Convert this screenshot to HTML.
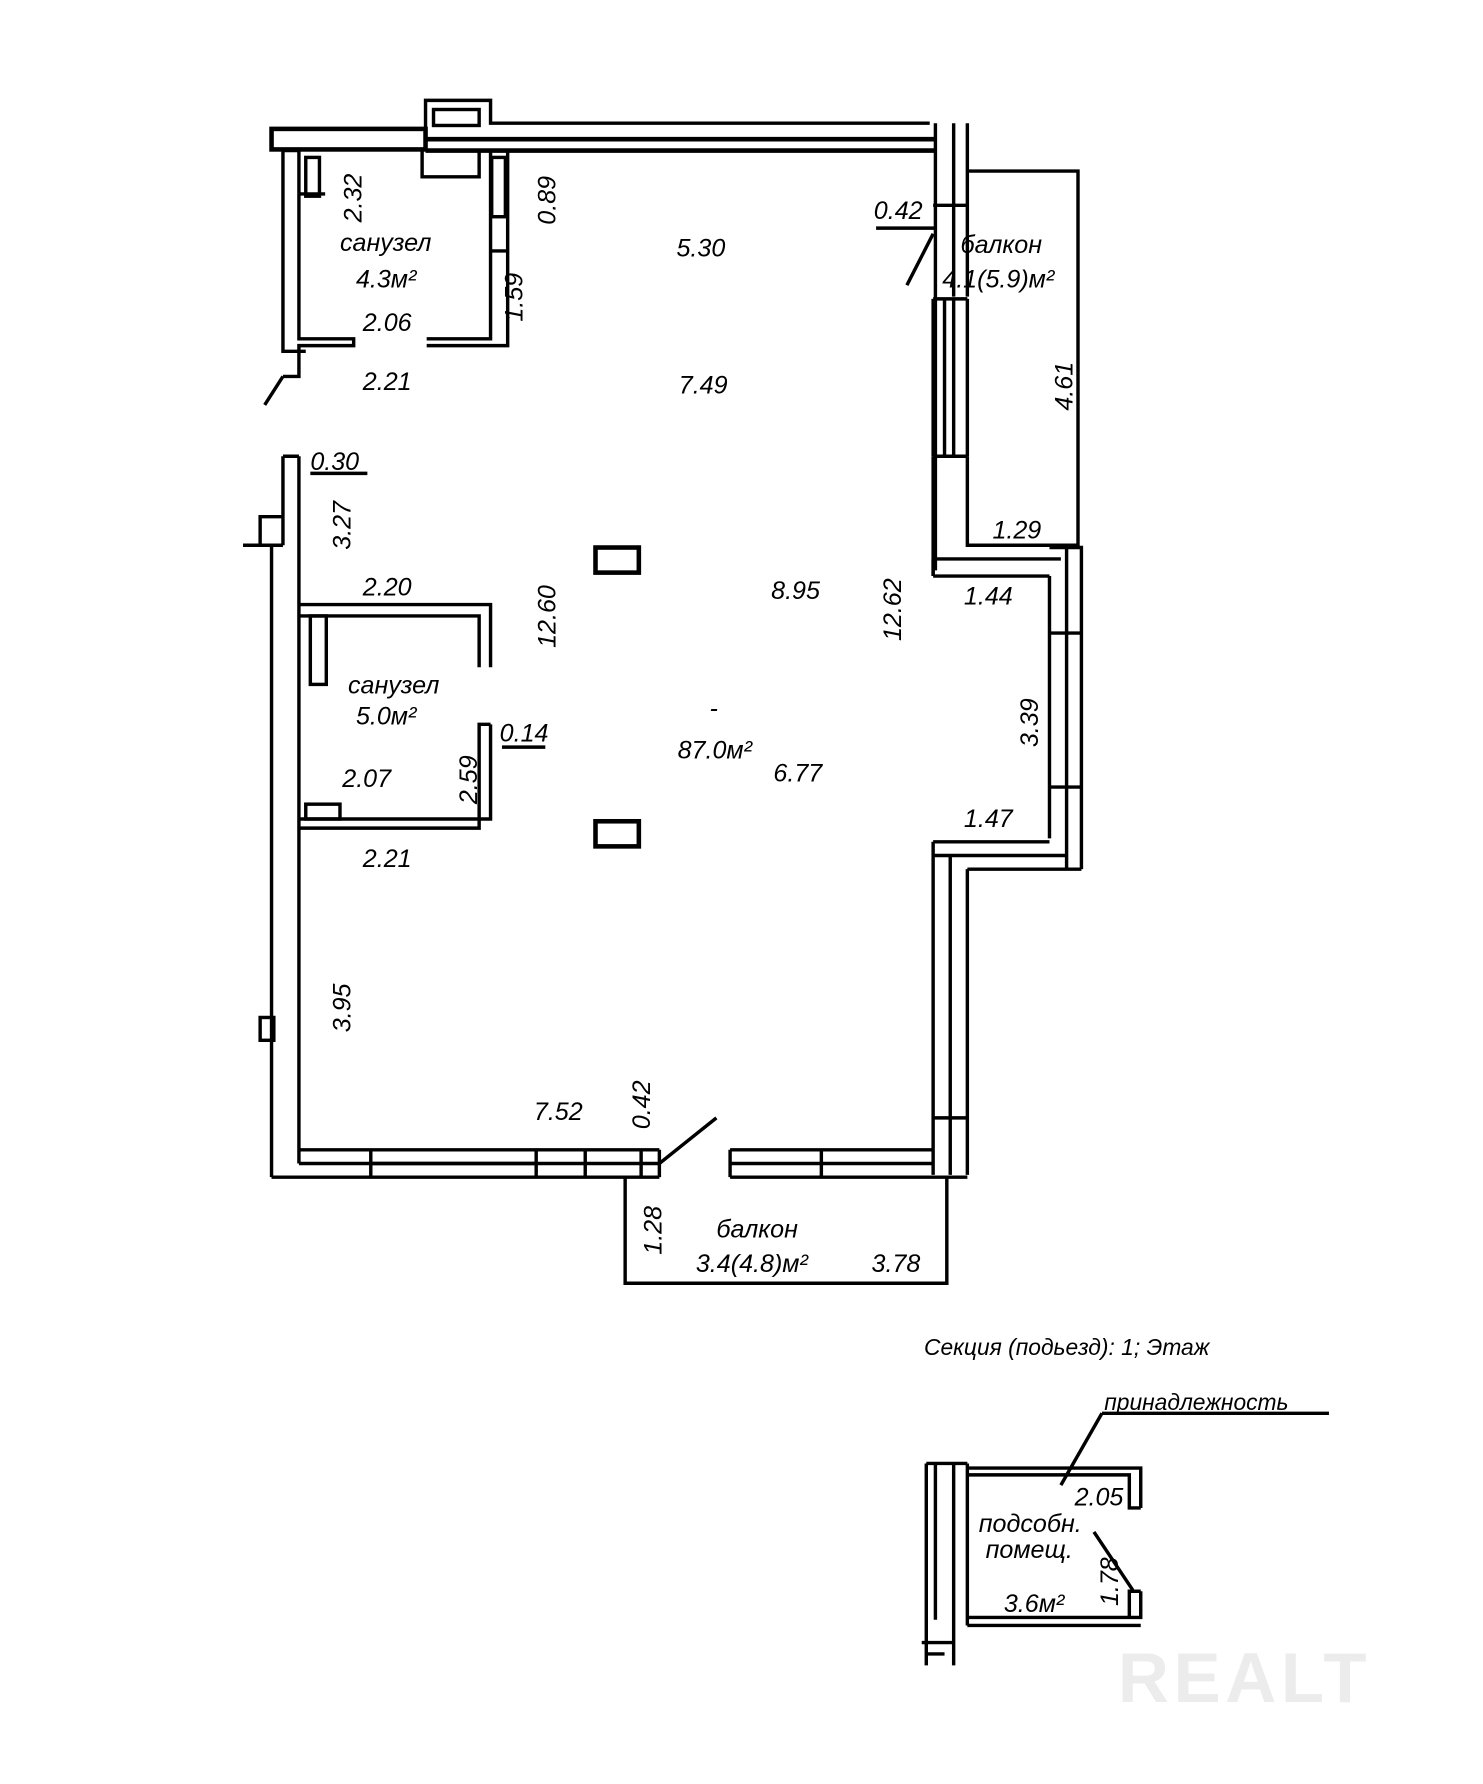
<!DOCTYPE html>
<html><head><meta charset="utf-8"><style>
html,body{margin:0;padding:0;background:#fff;}
svg{display:block;}
text{font-family:"Liberation Sans",sans-serif;font-style:italic;}
</style></head><body>
<svg width="1483" height="1784" viewBox="0 0 1300 1564" xmlns="http://www.w3.org/2000/svg">
<g fill="none" stroke="#000" stroke-width="3">
<rect x="238" y="113" width="135" height="18" stroke-width="4"/>
<path d="M373 112 V88 H430 V108 H815"/>
<rect x="380" y="96" width="40" height="14"/>
<path d="M373 122 H820 M373 132 H820" stroke-width="4"/>
<path d="M370 132 V155 H420 V132"/>
<path d="M248 132 V308 H268" /><path d="M248 132 H262 V170"/>
<rect x="268" y="138" width="12" height="34"/>
<path d="M262 170 H285 M262 170 V297 H310 V303 H262 V330 H248 M248 330 L232 355"/>
<path d="M374 297 H430 V132 M374 303 H445 V220 H430 M445 220 V132"/>
<rect x="431" y="138" width="12" height="52"/>
<path d="M820 108 V500 M836 108 V260 M848 108 V260" />
<path d="M818 180 H848"/>
<path d="M848 150 H945 V480"/>
<path d="M818 262 V400 M828 262 V400 M836 262 V400 M848 262 V400 M818 262 H848"/>
<path d="M818 400 H848 M818 400 V505 M848 400 V478 H945"/>
<path d="M818 205 L795 250"/>
<path d="M768 200 H820"/>
<path d="M818 490 H930 M818 505 H920 M818 490 V505"/>
<path d="M920 480 H948 V762 M920 505 V735 M935 480 V762 M920 555 H948 M920 690 H948"/>
<path d="M818 738 H920 M818 750 H935 M848 762 H948 M818 738 V1030 M833 750 V1030 M848 762 V1030"/>
<path d="M818 980 H848"/>
<path d="M248 400 V478 M262 400 V1020 M248 478 H213 M228 478 V453 H248"/>
<path d="M238 478 V1032 M248 400 H262"/>
<rect x="228" y="892" width="12" height="20"/>
<path d="M262 530 H430 V585 M262 540 H420 V585"/>
<rect x="272" y="540" width="14" height="60"/>
<path d="M262 718 H430 V635 M262 726 H420 V635 H430"/>
<rect x="268" y="705" width="30" height="13"/>
<path d="M440 655 H478"/>
<rect x="522" y="480" width="38" height="22" stroke-width="4"/>
<rect x="522" y="720" width="38" height="22" stroke-width="4"/>
<path d="M238 1032 H578 M262 1008 H578 M262 1020 H578 V1032 M578 1008 V1032"/>
<path d="M325 1008 V1032 M470 1008 V1032 M513 1008 V1032 M325 1020 H470" />
<path d="M562 1008 V1032 M578 1020 L628 980"/>
<path d="M640 1008 H818 M640 1020 H818 M640 1032 H848 M640 1008 V1032 M720 1008 V1032"/>
<path d="M548 1032 V1125 H830 V1032"/>
<path d="M272 415 H322 M966 1239 H1165 M966 1239 L930 1302 M959 1343 L993 1394"/>
<path d="M812 1283 V1460 M820 1283 V1420 M836 1283 V1460 M848 1283 V1425 M812 1283 H848"/>
<path d="M848 1287 H1000 V1322 M848 1293 H990 V1322 H1000"/>
<path d="M848 1418 H1000 V1395 M848 1425 H1000 M990 1418 V1395 H1000"/>
<path d="M808 1440 H836 M812 1450 H828"/>
</g>
<g font-size="22" fill="#000">
<text x="298" y="220">санузел</text>
<text x="312" y="252">4.3м²</text>
<text x="318" y="290">2.06</text>
<text x="318" y="342">2.21</text>
<text x="593" y="225">5.30</text>
<text x="595" y="345">7.49</text>
<text x="766" y="192">0.42</text>
<text x="842" y="222">балкон</text>
<text x="826" y="252">4.1(5.9)м²</text>
<text x="272" y="412">0.30</text>
<text x="870" y="472">1.29</text>
<text x="845" y="530">1.44</text>
<text x="676" y="525">8.95</text>
<text x="318" y="522">2.20</text>
<text x="305" y="608">санузел</text>
<text x="312" y="635">5.0м²</text>
<text x="438" y="650">0.14</text>
<text x="300" y="690">2.07</text>
<text x="594" y="665">87.0м²</text>
<text x="678" y="685">6.77</text>
<text x="845" y="725">1.47</text>
<text x="318" y="760">2.21</text>
<text x="468" y="982">7.52</text>
<text x="628" y="1085">балкон</text>
<text x="610" y="1115">3.4(4.8)м²</text>
<text x="764" y="1115">3.78</text>
<text x="810" y="1188" font-size="20">Секция (подьезд):  1;  Этаж</text>
<text x="968" y="1236" font-size="20">принадлежность</text>
<text x="942" y="1320">2.05</text>
<text x="858" y="1343">подсобн.</text>
<text x="864" y="1366">помещ.</text>
<text x="880" y="1413">3.6м²</text>
<text transform="translate(317,195) rotate(-90)">2.32</text>
<text transform="translate(487,197) rotate(-90)">0.89</text>
<text transform="translate(458,282) rotate(-90)">1.59</text>
<text transform="translate(940,360) rotate(-90)">4.61</text>
<text transform="translate(307,482) rotate(-90)">3.27</text>
<text transform="translate(487,568) rotate(-90)">12.60</text>
<text transform="translate(790,562) rotate(-90)">12.62</text>
<text transform="translate(910,655) rotate(-90)">3.39</text>
<text transform="translate(418,705) rotate(-90)">2.59</text>
<text transform="translate(307,905) rotate(-90)">3.95</text>
<text transform="translate(570,990) rotate(-90)">0.42</text>
<text transform="translate(580,1100) rotate(-90)">1.28</text>
<text transform="translate(980,1408) rotate(-90)">1.78</text>
<text x="622" y="628">-</text>
</g>
<text x="980" y="1492" font-size="62" style="fill:#ececec;font-style:normal;font-weight:bold;letter-spacing:4px">REALT</text>
</svg>
</body></html>
